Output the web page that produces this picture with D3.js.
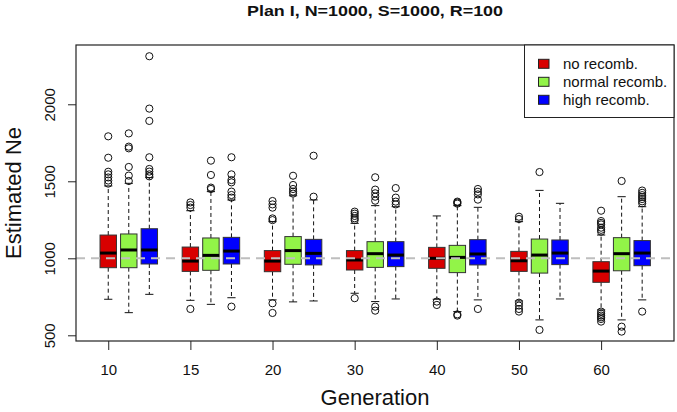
<!DOCTYPE html>
<html><head><meta charset="utf-8">
<script src="https://cdn.jsdelivr.net/npm/d3@7"></script>
<style>
html,body{margin:0;padding:0;background:#fff;}
svg{display:block;font-family:"Liberation Sans",Arial,Helvetica,sans-serif;}
</style></head>
<body>
<svg id="chart" width="677" height="412"></svg>
<script>
// ---- data ----
const generations = ["10", "15", "20", "30", "40", "50", "60"];
const seriesNames = ["no recomb.", "normal recomb.", "high recomb."];
const yTicks = [500, 1000, 1500, 2000];
const referenceNe = 1000;
// [lower whisker, Q1, median, Q3, upper whisker] per generation
const noRecStats = [
  [734, 939, 1034, 1151, 1470],
  [727, 915, 982, 1073, 1309],
  [730, 913, 982, 1050, 1238],
  [773, 924, 989, 1050, 1227],
  [734, 935, 1000, 1071, 1275],
  [723, 915, 984, 1045, 1238],
  [665, 844, 917, 978, 1151]
];
const noRecOutliers = [
  [1792, 1653, 1562, 1545, 1525, 1505, 1485],
  [1363, 1346, 1329, 671],
  [1372, 1350, 1329, 1259, 1248, 708, 645],
  [1303, 1290, 1275, 1260, 1248, 741],
  [719, 697],
  [1270, 1255, 712, 693, 671, 654],
  [1309, 1242, 1230, 1220, 1199, 1185, 1173, 654, 640, 628, 617, 606, 589]
];
const normalRecStats = [
  [647, 939, 1054, 1158, 1487],
  [701, 922, 1019, 1132, 1433],
  [717, 961, 1050, 1141, 1406],
  [719, 941, 1030, 1108, 1342],
  [654, 907, 1006, 1084, 1342],
  [600, 904, 1021, 1125, 1441],
  [600, 919, 1030, 1134, 1400]
];
const normalRecOutliers = [
  [1811, 1725, 1714, 1593, 1537, 1502],
  [1634, 1541, 1459, 1450],
  [1536, 1476, 1450, 1433, 1420],
  [1526, 1446, 1422, 1400, 1374, 686, 660],
  [1368, 1362, 1355, 636, 628],
  [1560, 535],
  [1502, 556, 524]
];
const highRecStats = [
  [766, 963, 1054, 1192, 1524],
  [744, 963, 1047, 1136, 1379],
  [723, 957, 1032, 1123, 1379],
  [736, 946, 1021, 1108, 1335],
  [730, 957, 1028, 1121, 1331],
  [736, 959, 1034, 1119, 1357],
  [730, 952, 1034, 1115, 1335]
];
const highRecOutliers = [
  [2312, 1972, 1892, 1656, 1580, 1563, 1545, 1532],
  [1656, 1545, 1508, 1493, 1433, 1411, 1394, 686],
  [1666, 1400],
  [1456, 1394, 1368, 1350],
  [1450, 1432, 1415, 1381, 671],
  [],
  [1440, 1425, 1410, 1398, 1385, 1370, 1357, 654]
];

// ---- style ----
const colors = ["#D80000", "#92F448", "#0000FF"];
const statsBySeries = [noRecStats, normalRecStats, highRecStats];
const outBySeries = [noRecOutliers, normalRecOutliers, highRecOutliers];

const svg = d3.select("#chart");
const plot = {left: 76, right: 674, top: 45, bottom: 341};

// position units: group g, series k -> 1 + 4g + k
const x = d3.scaleLinear().domain([-0.57, 28.55]).range([plot.left, plot.right]);
const y = d3.scaleLinear().domain([463, 2385]).range([plot.bottom, plot.top]);
const boxW = x(0.8) - x(0);
const capW = boxW / 2;

const boxes = [];
generations.forEach((g, gi) => {
  seriesNames.forEach((s, k) => {
    const st = statsBySeries[k][gi];
    boxes.push({gen: g, k, pos: 1 + 4 * gi + k, lw: st[0], q1: st[1], med: st[2], q3: st[3], uw: st[4], out: outBySeries[k][gi]});
  });
});

const gBox = svg.append("g");
boxes.forEach(b => {
  const cx = x(b.pos);
  const gg = gBox.append("g");
  // whiskers
  gg.append("line").attr("x1", cx).attr("x2", cx).attr("y1", y(b.q3)).attr("y2", y(b.uw))
    .attr("stroke", "#111").attr("stroke-width", 1).attr("stroke-dasharray", "4,3");
  gg.append("line").attr("x1", cx).attr("x2", cx).attr("y1", y(b.q1)).attr("y2", y(b.lw))
    .attr("stroke", "#111").attr("stroke-width", 1).attr("stroke-dasharray", "4,3");
  // caps
  [b.lw, b.uw].forEach(v => {
    gg.append("line").attr("x1", cx - capW / 2).attr("x2", cx + capW / 2).attr("y1", y(v)).attr("y2", y(v))
      .attr("stroke", "#111").attr("stroke-width", 1);
  });
  // box
  gg.append("rect").attr("x", cx - boxW / 2).attr("width", boxW)
    .attr("y", y(b.q3)).attr("height", y(b.q1) - y(b.q3))
    .attr("fill", colors[b.k]).attr("stroke", "#333").attr("stroke-width", 1);
  // median
  gg.append("line").attr("x1", cx - boxW / 2).attr("x2", cx + boxW / 2).attr("y1", y(b.med)).attr("y2", y(b.med))
    .attr("stroke", "#000").attr("stroke-width", 3);
  // outliers
  gg.selectAll("circle").data(b.out).join("circle")
    .attr("cx", cx).attr("cy", d => y(d)).attr("r", 3.6)
    .attr("fill", "none").attr("stroke", "#111").attr("stroke-width", 1);
});

// reference line
svg.append("line").attr("x1", plot.left).attr("x2", plot.right)
  .attr("y1", y(referenceNe)).attr("y2", y(referenceNe))
  .attr("stroke", "#BEBEBE").attr("stroke-width", 2).attr("stroke-dasharray", "9,6");

// frame
svg.append("rect").attr("x", plot.left).attr("y", plot.top)
  .attr("width", plot.right - plot.left).attr("height", plot.bottom - plot.top)
  .attr("fill", "none").attr("stroke", "#222").attr("stroke-width", 1.2);

// y axis
const yAxis = svg.append("g").attr("transform", `translate(${plot.left},0)`)
  .call(d3.axisLeft(y).tickValues(yTicks).tickSize(8).tickFormat(d3.format("d")));
yAxis.select(".domain").remove();
yAxis.selectAll(".tick line").attr("stroke", "#222");
yAxis.selectAll(".tick text").remove();
yAxis.selectAll(".tick").append("text")
  .attr("transform", "translate(-21,0) rotate(-90)")
  .attr("text-anchor", "middle").attr("fill", "#111")
  .style("font-size", "15px").text(d => d);

// x axis
const xTickPos = generations.map((g, gi) => 1 + 4 * gi);
const xAxis = svg.append("g").attr("transform", `translate(0,${plot.bottom})`)
  .call(d3.axisBottom(x).tickValues(xTickPos).tickSize(9).tickFormat((d, i) => generations[i]));
xAxis.select(".domain").remove();
xAxis.selectAll(".tick line").attr("stroke", "#222");
xAxis.selectAll(".tick text").attr("y", 34).attr("dy", 0).attr("fill", "#111").style("font-size", "15px");

// titles
svg.append("text").attr("x", 375).attr("y", 16).attr("text-anchor", "middle")
  .attr("textLength", 256).attr("lengthAdjust", "spacingAndGlyphs")
  .style("font-size", "15px").style("font-weight", "bold").attr("fill", "#111")
  .text("Plan I, N=1000, S=1000, R=100");
svg.append("text").attr("x", 375).attr("y", 405).attr("text-anchor", "middle")
  .style("font-size", "22px").attr("fill", "#111").text("Generation");
svg.append("text").attr("transform", `translate(20.5,${(plot.top + plot.bottom) / 2}) rotate(-90)`)
  .attr("text-anchor", "middle").style("font-size", "22px").attr("fill", "#111").text("Estimated Ne");

// legend
const leg = svg.append("g");
leg.append("rect").attr("x", 524.5).attr("y", plot.top).attr("width", plot.right - 524.5).attr("height", 72.5)
  .attr("fill", "#fff").attr("stroke", "#222").attr("stroke-width", 1);
seriesNames.forEach((s, i) => {
  const cy = 63.8 + i * 18;
  leg.append("rect").attr("x", 538.5).attr("y", cy - 4.5).attr("width", 10.5).attr("height", 9)
    .attr("fill", colors[i]).attr("stroke", "#222").attr("stroke-width", 1);
  leg.append("text").attr("x", 563).attr("y", cy + 5).style("font-size", "15px").attr("fill", "#111").text(s);
});
</script>
</body></html>
